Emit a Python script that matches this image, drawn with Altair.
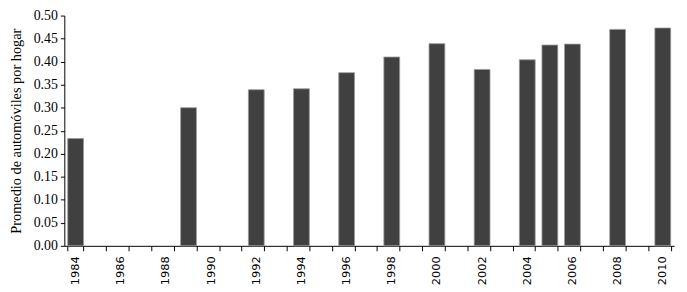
import altair as alt
import pandas as pd

years = [1984, 1989, 1992, 1994, 1996, 1998, 2000, 2002, 2004, 2005, 2006, 2008, 2010]
values = [0.233, 0.300, 0.339, 0.341, 0.376, 0.410, 0.439, 0.383, 0.404, 0.436, 0.438, 0.470, 0.473]
all_years = [str(y) for y in range(1984, 2011)]
y_ticks = [round(0.05 * i, 2) for i in range(11)]

df = pd.DataFrame({"year": [str(y) for y in years], "value": values})

chart = alt.Chart(df).mark_bar(
    color="#404040", stroke="#9a9a9a", strokeWidth=0.8
).encode(
    x=alt.X("year:O",
            scale=alt.Scale(domain=all_years, paddingInner=0.3, paddingOuter=0.15),
            axis=alt.Axis(title=None, tickBand="extent", labelAngle=270,
                          labelExpr="toNumber(datum.value) % 2 == 0 ? datum.value : ''",
                          labelOverlap=False, labelFont="DejaVu Sans", labelFontSize=11.5,
                          labelColor="#000", tickColor="#000", domainColor="#000",
                          tickSize=5, labelPadding=5, labelBaseline="middle", labelAlign="right")),
    y=alt.Y("value:Q",
            scale=alt.Scale(domain=[0, 0.5], nice=False),
            axis=alt.Axis(title="Promedio de automóviles por hogar", values=y_ticks,
                          format=".2f", grid=False, labelFont="Liberation Serif",
                          labelFontSize=14, labelColor="#000", tickColor="#000",
                          domainColor="#000", tickSize=4, labelPadding=3,
                          titleFont="Liberation Serif", titleFontSize=14.5,
                          titleFontWeight="normal", titleColor="#000",
                          titleX=-48, titleBaseline="middle")),
).properties(
    width=617, height=233,
    autosize=alt.AutoSizeParams(type="none"),
    padding={"left": 57, "top": 6, "right": 5, "bottom": 40},
).configure_view(stroke=None)

chart.save("out.html", embed_options={"renderer": "svg", "actions": False})
